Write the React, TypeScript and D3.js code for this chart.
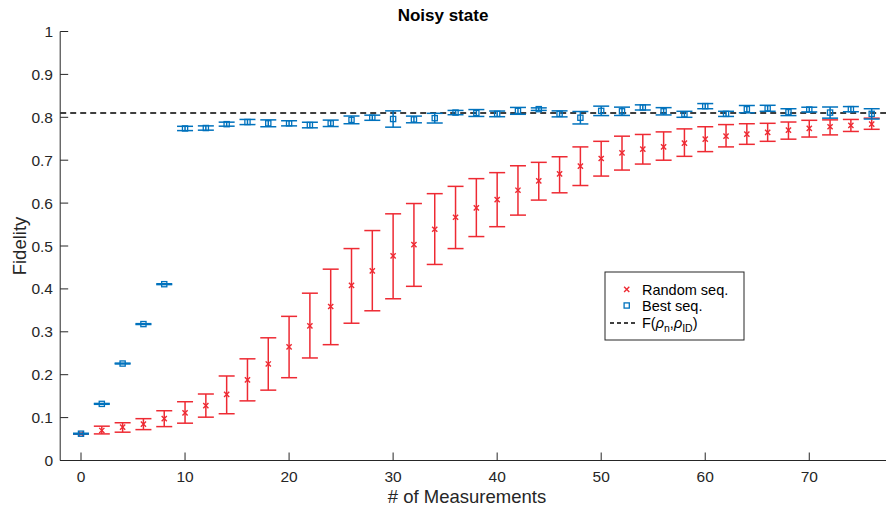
import React from "react";
import * as d3 from "d3";

// Number of measurements for each sequence
const measurements = [0, 2, 4, 6, 8, 10, 12, 14, 16, 18, 20, 22, 24, 26, 28, 30, 32, 34, 36, 38, 40, 42, 44, 46, 48, 50, 52, 54, 56, 58, 60, 62, 64, 66, 68, 70, 72, 74, 76];

// Random sequences: mean fidelity with lower / upper error bounds
const randomMean = [0.062, 0.070, 0.078, 0.085, 0.0975, 0.111, 0.128, 0.154, 0.188, 0.225, 0.265, 0.314, 0.359, 0.408, 0.442, 0.477, 0.503, 0.539, 0.567, 0.589, 0.608, 0.630, 0.652, 0.668, 0.686, 0.704, 0.717, 0.726, 0.731, 0.740, 0.749, 0.756, 0.761, 0.765, 0.770, 0.774, 0.778, 0.781, 0.784];
const randomLow = [0.062, 0.062, 0.066, 0.072, 0.079, 0.087, 0.101, 0.109, 0.139, 0.164, 0.193, 0.239, 0.270, 0.320, 0.349, 0.377, 0.406, 0.457, 0.494, 0.522, 0.545, 0.572, 0.607, 0.624, 0.641, 0.663, 0.677, 0.691, 0.700, 0.709, 0.720, 0.731, 0.737, 0.744, 0.749, 0.754, 0.759, 0.767, 0.772];
const randomHigh = [0.062, 0.080, 0.088, 0.0975, 0.116, 0.137, 0.155, 0.197, 0.237, 0.286, 0.336, 0.390, 0.446, 0.494, 0.536, 0.575, 0.599, 0.622, 0.639, 0.657, 0.671, 0.687, 0.695, 0.708, 0.731, 0.744, 0.756, 0.760, 0.766, 0.773, 0.778, 0.783, 0.785, 0.786, 0.789, 0.793, 0.794, 0.795, 0.798];

// Best sequences: mean fidelity and symmetric error
const bestMean = [0.0625, 0.132, 0.226, 0.318, 0.411, 0.774, 0.775, 0.784, 0.789, 0.786, 0.786, 0.782, 0.786, 0.794, 0.799, 0.796, 0.795, 0.798, 0.811, 0.810, 0.808, 0.815, 0.819, 0.808, 0.799, 0.815, 0.814, 0.823, 0.814, 0.807, 0.826, 0.808, 0.819, 0.821, 0.812, 0.818, 0.811, 0.819, 0.808];
const bestErr = [0.001, 0.001, 0.001, 0.001, 0.001, 0.005, 0.005, 0.0047, 0.006, 0.008, 0.006, 0.0065, 0.0075, 0.009, 0.006, 0.019, 0.0078, 0.0113, 0.005, 0.008, 0.0066, 0.008, 0.003, 0.007, 0.0145, 0.011, 0.0097, 0.006, 0.0085, 0.007, 0.006, 0.006, 0.0085, 0.007, 0.008, 0.0055, 0.013, 0.006, 0.012];

// Reference fidelity F(rho_n, rho_ID)
const referenceFidelity = 0.81;

const xTicks = [0, 10, 20, 30, 40, 50, 60, 70];
const yTicks = [0, 0.1, 0.2, 0.3, 0.4, 0.5, 0.6, 0.7, 0.8, 0.9, 1];

const W = 886;
const H = 514;
const RED = "#ee2a33";
const BLUE = "#0072bd";
const AXIS = "#262626";
const FONT = "'Liberation Sans', Arial, Helvetica, sans-serif";

export default function App() {
  const x = d3.scaleLinear().domain([-2, 78]).range([60.2, 892.5]);
  const y = d3.scaleLinear().domain([0, 1]).range([460.5, 31.5]);
  const cap = 8;
  const tick = 8;
  const x0 = x.range()[0];
  const yBase = y(0);

  const randomRows = measurements.map((m, i) => ({ m, mean: randomMean[i], lo: randomLow[i], hi: randomHigh[i] }));
  const bestRows = measurements.map((m, i) => ({ m, mean: bestMean[i], lo: bestMean[i] - bestErr[i], hi: bestMean[i] + bestErr[i] }));

  const errorBar = (r: { m: number; lo: number; hi: number }, color: string, key: string) => {
    const cx = x(r.m);
    return (
      <g key={key} stroke={color} strokeWidth={1.5} fill="none">
        <line x1={cx} x2={cx} y1={y(r.lo)} y2={y(r.hi)} />
        <line x1={cx - cap} x2={cx + cap} y1={y(r.lo)} y2={y(r.lo)} />
        <line x1={cx - cap} x2={cx + cap} y1={y(r.hi)} y2={y(r.hi)} />
      </g>
    );
  };

  const cross = (cx: number, cy: number, key: string) => (
    <path key={key} d={`M${cx - 2.6},${cy - 2.6}L${cx + 2.6},${cy + 2.6}M${cx - 2.6},${cy + 2.6}L${cx + 2.6},${cy - 2.6}`} stroke={RED} strokeWidth={1.4} fill="none" />
  );
  const square = (cx: number, cy: number, key: string) => (
    <rect key={key} x={cx - 2.6} y={cy - 2.6} width={5.2} height={5.2} stroke={BLUE} strokeWidth={1.3} fill="none" />
  );

  // legend geometry
  const lgX = 605, lgY = 272, lgW = 139, lgH = 68;

  return (
    <svg width={W} height={H} style={{ position: "absolute", left: 0, top: 0, background: "#fff" }} fontFamily={FONT}>
      <rect width={W} height={H} fill="#fff" />

      {/* reference fidelity */}
      <line x1={x0} x2={W} y1={y(referenceFidelity)} y2={y(referenceFidelity)} stroke="#000" strokeWidth={1.5} strokeDasharray="6,4" />

      {/* random sequences */}
      {randomRows.map((r, i) => errorBar(r, RED, `re${i}`))}
      {randomRows.map((r, i) => cross(x(r.m), y(r.mean), `rm${i}`))}

      {/* best sequences */}
      {bestRows.map((r, i) => errorBar(r, BLUE, `be${i}`))}
      {bestRows.map((r, i) => square(x(r.m), y(r.mean), `bm${i}`))}

      {/* axes */}
      <g stroke={AXIS} strokeWidth={1} fill="none">
        <line x1={x0} x2={x0} y1={y(1)} y2={yBase} />
        <line x1={x0} x2={W} y1={yBase} y2={yBase} />
        {yTicks.map((t) => (
          <line key={`yt${t}`} x1={x0} x2={x0 + tick} y1={y(t)} y2={y(t)} />
        ))}
        {xTicks.map((t) => (
          <line key={`xt${t}`} x1={x(t)} x2={x(t)} y1={yBase} y2={yBase - tick} />
        ))}
      </g>
      <g fill={AXIS} fontSize={15.5}>
        {yTicks.map((t) => (
          <text key={`yl${t}`} x={53} y={y(t)} dy="0.36em" textAnchor="end">
            {d3.format("~g")(t)}
          </text>
        ))}
        {xTicks.map((t) => (
          <text key={`xl${t}`} x={x(t)} y={482} textAnchor="middle">
            {t}
          </text>
        ))}
      </g>

      {/* titles */}
      <text x={443} y={21} textAnchor="middle" fontWeight="bold" fontSize={17} fill="#000">
        Noisy state
      </text>
      <text x={467} y={503} textAnchor="middle" fontSize={18.5} fill={AXIS}>
        # of Measurements
      </text>
      <text transform={`translate(26,${(y(0) + y(1)) / 2}) rotate(-90)`} textAnchor="middle" fontSize={18.5} fill={AXIS}>
        Fidelity
      </text>

      {/* legend */}
      <g>
        <rect x={lgX} y={lgY} width={lgW} height={lgH} fill="#fff" stroke={AXIS} strokeWidth={1} />
        {cross(626.7, 289.3, "lg1")}
        {square(626.7, 305.5, "lg2")}
        <line x1={610} x2={638} y1={323} y2={323} stroke="#000" strokeWidth={1.3} strokeDasharray="4,3" />
        <g fontSize={14.5} fill="#000">
          <text x={642} y={289.3} dy="0.36em">Random seq.</text>
          <text x={642} y={305.5} dy="0.36em">Best seq.</text>
          <text x={642} y={323} dy="0.36em">
            F(<tspan fontStyle="italic">ρ</tspan>
            <tspan fontSize={10.5} dy={4}>n</tspan>
            <tspan dy={-4}>,</tspan>
            <tspan fontStyle="italic">ρ</tspan>
            <tspan fontSize={10.5} dy={4}>ID</tspan>
            <tspan dy={-4}>)</tspan>
          </text>
        </g>
      </g>
    </svg>
  );
}
